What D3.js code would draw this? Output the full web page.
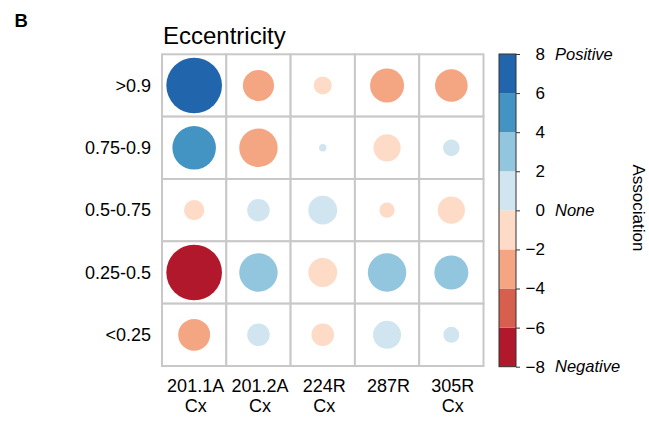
<!DOCTYPE html>
<html>
<head>
<meta charset="utf-8">
<script src="https://cdn.jsdelivr.net/npm/d3@7"></script>
<style>
  body { margin: 0; background: #fff; }
  svg { font-family: "Liberation Sans", Arial, sans-serif; }
</style>
</head>
<body>
<svg id="chart" width="649" height="421"></svg>
<script>
// row / column categories
var rowLabels = [">0.9", "0.75-0.9", "0.5-0.75", "0.25-0.5", "<0.25"];
var colLabels = [["201.1A", "Cx"], ["201.2A", "Cx"], ["224R", "Cx"], ["287R"], ["305R", "Cx"]];
var colKeys = ["201.1A", "201.2A", "224R", "287R", "305R"];

// association values, one array per eccentricity bin (same order as colKeys)
var valsGt09   = [6.7, -2.1, -0.7, -2.5, -2.3];
var vals075_09 = [4.1, -3.2, 0.12, -1.6, 0.6];
var vals05_075 = [-0.9, 1.1, 1.8, -0.5, -1.6];
var vals025_05 = [-6.7, 3.2, -1.8, 3.2, 2.5];
var valsLt025  = [-2.2, 1.1, -1.1, 1.7, 0.55];
var values = [valsGt09, vals075_09, vals05_075, vals025_05, valsLt025];

var legendTicks = [8, 6, 4, 2, 0, -2, -4, -6, -8];
var legendNotes = [[8, "Positive"], [0, "None"], [-8, "Negative"]];

var GRID = { left: 162, right: 483.5, top: 54.3, bottom: 366 };
var BAR = { x: 499, w: 17, top: 54, bottom: 366.7 };

var svg = d3.select("#chart");

var x = d3.scaleBand().domain(colKeys).range([GRID.left, GRID.right]);
var y = d3.scaleBand().domain(rowLabels).range([GRID.top, GRID.bottom]);
var r = d3.scaleSqrt().domain([0, 8]).range([0, 30.4]);
var color = d3.scaleThreshold()
    .domain([-6, -4, -2, 0, 2, 4, 6])
    .range(d3.schemeRdBu[8]);

// panel letter + title
svg.append("text")
    .attr("x", 14.5).attr("y", 27)
    .style("font-size", "18.5px").style("font-weight", "bold")
    .text("B");

svg.append("text")
    .attr("x", 163).attr("y", 44)
    .style("font-size", "24px")
    .text("Eccentricity");

// cells
var cells = [];
values.forEach(function(row, i) {
    row.forEach(function(v, j) {
        cells.push({ row: rowLabels[i], col: colKeys[j], value: v });
    });
});

svg.append("g").selectAll("rect")
    .data(cells)
    .enter().append("rect")
    .attr("x", function(d) { return x(d.col); })
    .attr("y", function(d) { return y(d.row); })
    .attr("width", x.bandwidth())
    .attr("height", y.bandwidth())
    .attr("fill", "#fff")
    .attr("stroke", "#c8c8c8")
    .attr("stroke-width", 2);

svg.append("g").selectAll("circle")
    .data(cells)
    .enter().append("circle")
    .attr("cx", function(d) { return x(d.col) + x.bandwidth() / 2; })
    .attr("cy", function(d) { return y(d.row) + y.bandwidth() / 2; })
    .attr("r", function(d) { return r(Math.abs(d.value)); })
    .attr("fill", function(d) { return color(d.value); });

// row labels
svg.append("g").selectAll("text")
    .data(rowLabels)
    .enter().append("text")
    .attr("x", 151)
    .attr("y", function(d) { return y(d) + y.bandwidth() / 2; })
    .attr("dy", "0.35em")
    .attr("text-anchor", "end")
    .style("font-size", "18px")
    .text(function(d) { return d; });

// column labels (two lines)
var colText = svg.append("g").selectAll("text")
    .data(colLabels)
    .enter().append("text")
    .attr("text-anchor", "middle")
    .style("font-size", "18px");
colText.selectAll("tspan")
    .data(function(d, i) { return d.map(function(s) { return { s: s, i: i }; }); })
    .enter().append("tspan")
    .attr("x", function(d) { return x(colKeys[d.i]) + x.bandwidth() / 2 + 1.5; })
    .attr("y", function(d, k) { return 392 + k * 20; })
    .text(function(d) { return d.s; });

// colour bar
var bar = d3.scaleLinear().domain([-8, 8]).range([BAR.bottom, BAR.top]);
var bands = d3.range(-8, 8, 2);
svg.append("g").selectAll("rect")
    .data(bands)
    .enter().append("rect")
    .attr("x", BAR.x)
    .attr("y", function(d) { return bar(d + 2); })
    .attr("width", BAR.w)
    .attr("height", function(d) { return bar(d) - bar(d + 2); })
    .attr("fill", function(d) { return color(d + 1); });

svg.append("rect")
    .attr("x", BAR.x).attr("y", BAR.top)
    .attr("width", BAR.w).attr("height", BAR.bottom - BAR.top)
    .attr("fill", "none")
    .attr("stroke", "#333")
    .attr("stroke-width", 1);

var axis = d3.axisRight(bar)
    .tickValues(legendTicks)
    .tickSize(4)
    .tickPadding(3)
    .tickFormat(function(d) { return d < 0 ? "\u2212" + Math.abs(d) : d; });

var axisG = svg.append("g")
    .attr("transform", "translate(" + (BAR.x + BAR.w) + ",0)")
    .call(axis);
axisG.select(".domain").remove();
axisG.selectAll("line").attr("stroke", "#333");
axisG.selectAll("text")
    .attr("x", 29)
    .attr("text-anchor", "end")
    .attr("fill", "#000")
    .style("font-size", "17px")
    .style("font-family", "\"Liberation Sans\", Arial, sans-serif");

svg.append("g").selectAll("text")
    .data(legendNotes)
    .enter().append("text")
    .attr("x", 555)
    .attr("y", function(d) { return bar(d[0]); })
    .attr("dy", "0.35em")
    .style("font-size", "16.5px")
    .style("font-style", "italic")
    .text(function(d) { return d[1]; });

svg.append("text")
    .attr("transform", "translate(632.5,208) rotate(90)")
    .attr("text-anchor", "middle")
    .style("font-size", "17px")
    .text("Association");
</script>
</body>
</html>
